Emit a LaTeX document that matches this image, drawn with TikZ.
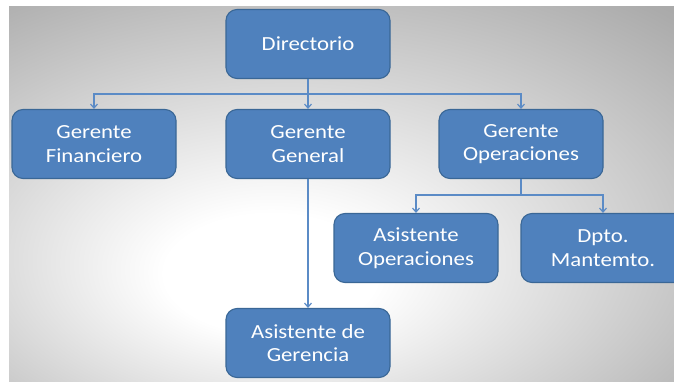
\documentclass[tikz,border=0pt]{standalone}
\usepackage{fontspec}
\setmainfont{Carlito}[FakeStretch=1.14]
\usetikzlibrary{arrows.meta,calc,positioning}

\definecolor{boxfill}{HTML}{4F81BD}
\definecolor{boxline}{HTML}{3A6796}
\definecolor{linkcol}{HTML}{5B8BC6}
\pgfdeclareradialshading{backshade}{\pgfpoint{-6bp}{-12bp}}{%
  color(0bp)=(white); color(8bp)=(white); color(40bp)=(black!33); color(72bp)=(black!48)}

\begin{document}
\begin{tikzpicture}[x=1pt, y=1pt,
                    box/.style  ={rectangle, rounded corners=11pt, draw=boxline, line width=1.1pt,
                                  fill=boxfill, text=white, align=center, minimum width=164pt,
                                  minimum height=69pt, font=\fontsize{20}{23.5}\selectfont},
                    link/.style ={-{Straight Barb[length=4pt,width=7pt]}, draw, color=linkcol, line width=1.2pt},
                    trunk/.style={-, draw, color=linkcol, line width=1.2pt}]

      \useasboundingbox (0,0) rectangle (674,381);
      \clip (0,0) rectangle (674,381);
      \fill[white] (0,0) rectangle (674,381);
      \shade[shading=backshade] (9,0) rectangle (674,374);

      \node[box]  at(308, 337)          (dir)   {Directorio};
      \node[box]  at($(dir)+(-214,-100)$) (gfin)  {Gerente\\Financiero};
      \node[box]  at($(dir)+(0,-100)$)    (ggen)  {Gerente\\General};
      \node[box]  at($(dir)+(213,-100)$)  (gop)   {Gerente\\Operaciones};
      \node[box]  at($(gop)+(-105,-104)$) (asop)  {Asistente\\Operaciones};
      \node[box]  at($(gop)+(82,-104)$)   (mant)  {Dpto.\\Mantemto.};
      \node[box]  at($(ggen)+(0,-199)$)   (asger) {Asistente de\\Gerencia};

      \coordinate (bus1) at($(dir.south)+(0,-15)$);
      \coordinate (bus2) at($(gop.south)+(0,-16)$);
      \path[trunk] (dir.south) -- (bus1);
      \path[link] (bus1) -| (gfin.north);
      \path[link] (bus1) -- (ggen.north);
      \path[link] (bus1) -| (gop.north);
      \path[trunk] (gop.south) -- (bus2);
      \path[link] (bus2) -| (asop.north);
      \path[link] (bus2) -| (mant.north);
      \path[link] (ggen.south) -- (asger.north);
    \end{tikzpicture}
\end{document}
